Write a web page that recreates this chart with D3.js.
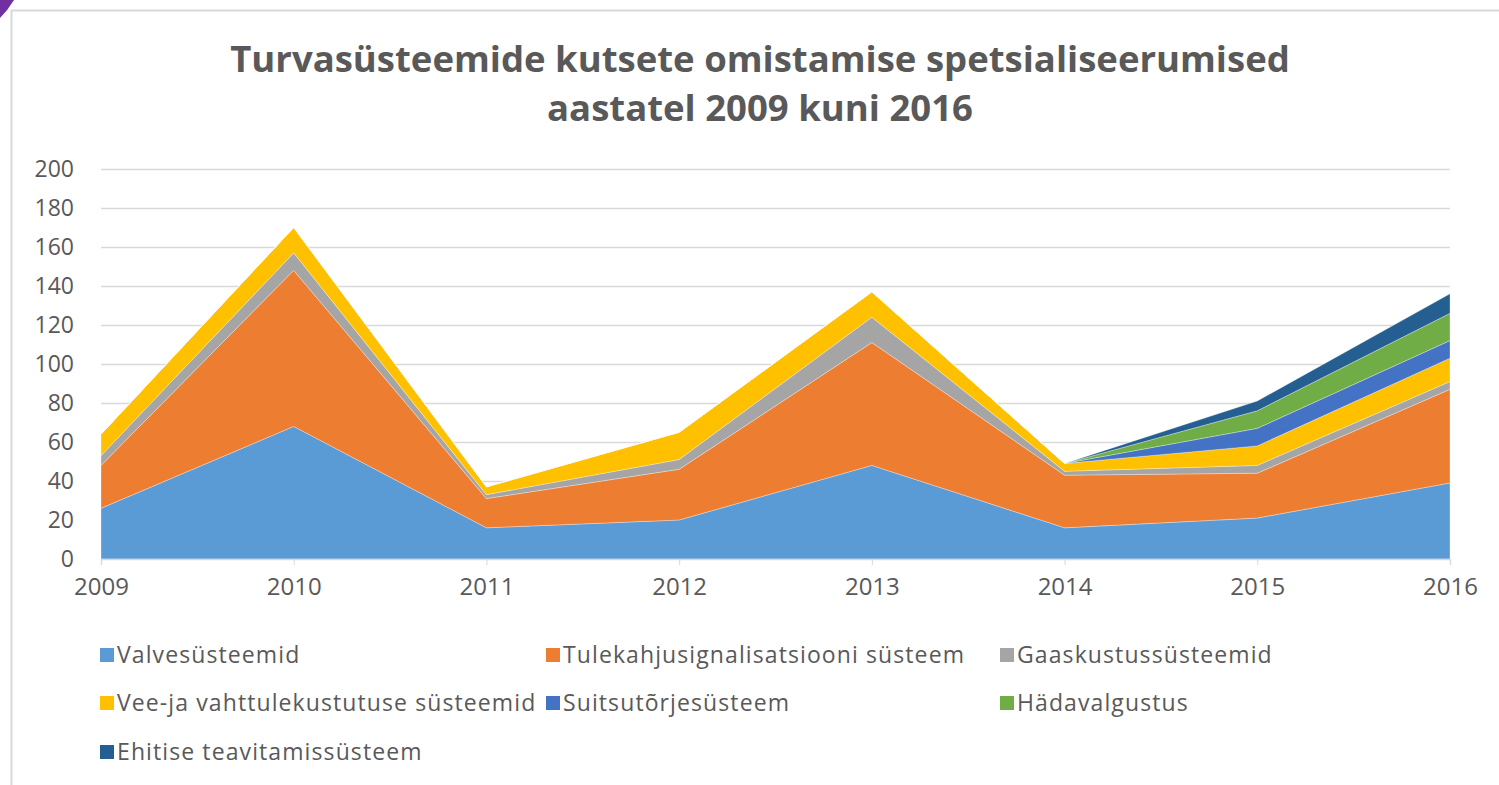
<!DOCTYPE html>
<html>
<head>
<meta charset="utf-8">
<script src="https://cdn.jsdelivr.net/npm/d3@7"></script>
<style>
  body { margin: 0; background: #fff; }
  svg text { font-family: "Open Sans", sans-serif; fill: #595959; }
</style>
</head>
<body>
<div id="app"></div>
<script>
const years = [2009, 2010, 2011, 2012, 2013, 2014, 2015, 2016];
const valve = [26, 68, 16, 20, 48, 16, 21, 39];
const tulekahju = [22, 80, 15, 26, 63, 27, 23, 48];
const gaas = [5, 9, 2, 5, 13, 2, 4, 4];
const vesi = [11, 13, 4, 14, 13, 4, 10, 12];
const suits = [0, 0, 0, 0, 0, 0, 9, 9];
const hada = [0, 0, 0, 0, 0, 0, 9, 14];
const ehitis = [0, 0, 0, 0, 0, 0, 5, 10];
const yTicks = [0, 20, 40, 60, 80, 100, 120, 140, 160, 180, 200];

const seriesNames = ['Valvesüsteemid', 'Tulekahjusignalisatsiooni süsteem', 'Gaaskustussüsteemid',
  'Vee-ja vahttulekustutuse süsteemid', 'Suitsutõrjesüsteem', 'Hädavalgustus', 'Ehitise teavitamissüsteem'];
const seriesValues = [valve, tulekahju, gaas, vesi, suits, hada, ehitis];
const colors = ['#5b9bd5', '#ed7d31', '#a5a5a5', '#ffc000', '#4472c4', '#70ad47', '#255e91'];

const w = 1499, h = 785;
const plotLeft = 101, plotRight = 1450, plotTop = 169, plotBottom = 559;

// rows for d3.stack
const rows = years.map((yr, i) => {
  const r = { year: yr };
  seriesNames.forEach((n, k) => { r[n] = seriesValues[k][i]; });
  return r;
});

const svg = d3.select('#app').append('svg').attr('width', w).attr('height', h);

// chart frame + corner mark
svg.append('rect').attr('x', 11.5).attr('y', 10.5).attr('width', w).attr('height', h)
  .attr('fill', '#fff').attr('stroke', '#d9d9d9').attr('stroke-width', 2);
svg.append('path').attr('d', 'M0,0 L14,0 Q8,10 0,18 Z').attr('fill', '#7030a0');

const x = d3.scaleLinear().domain([2009, 2016]).range([plotLeft, plotRight]);
const y = d3.scaleLinear().domain([0, 200]).range([plotBottom, plotTop]);

// gridlines
svg.append('g')
  .attr('transform', `translate(${plotLeft},0)`)
  .call(d3.axisLeft(y).tickValues(yTicks.filter(t => t > 0)).tickSize(-(plotRight - plotLeft)).tickFormat(''))
  .call(g => g.select('.domain').remove())
  .call(g => g.selectAll('line').attr('stroke', '#d9d9d9').attr('stroke-width', 1.5));

const stack = d3.stack().keys(seriesNames);
const layers = stack(rows);

const area = d3.area()
  .x(d => x(d.data.year))
  .y0(d => y(d[0]))
  .y1(d => y(d[1]));

svg.append('g').selectAll('path')
  .data(layers)
  .join('path')
  .attr('d', area)
  .attr('fill', (d, i) => colors[i])
  .attr('stroke', 'rgba(255,255,255,0.3)')
  .attr('stroke-width', 1);

// y axis labels
svg.append('g')
  .attr('transform', `translate(${plotLeft},0)`)
  .call(d3.axisLeft(y).tickValues(yTicks).tickSize(0).tickPadding(27))
  .call(g => g.select('.domain').remove())
  .call(g => g.selectAll('text').style('font-size', '23px').attr('fill', '#595959'));

// x axis
svg.append('g')
  .attr('transform', `translate(0,${plotBottom})`)
  .call(d3.axisBottom(x).tickValues(years).tickFormat(d3.format('d')).tickSize(6).tickPadding(13))
  .call(g => g.select('.domain').attr('stroke', '#d9d9d9').attr('stroke-width', 1.5))
  .call(g => g.selectAll('line').attr('stroke', '#d9d9d9'))
  .call(g => g.selectAll('text').style('font-size', '24px').attr('fill', '#595959'));

// title
const title = svg.append('text')
  .attr('text-anchor', 'middle')
  .style('font-size', '36.5px')
  .style('font-weight', 'bold');
title.append('tspan').attr('x', 760).attr('y', 72).text('Turvasüsteemide kutsete omistamise spetsialiseerumised');
title.append('tspan').attr('x', 760).attr('y', 121).text('aastatel 2009 kuni 2016');

// legend
const legX = [100, 546, 1000];
const legY = [655, 703, 752];
const legend = svg.append('g').selectAll('g')
  .data(seriesNames)
  .join('g')
  .attr('transform', (d, i) => `translate(${legX[i % 3]},${legY[Math.floor(i / 3)]})`);
legend.append('rect').attr('x', 0).attr('y', -7).attr('width', 14).attr('height', 14)
  .attr('fill', (d, i) => colors[i]);
legend.append('text').attr('x', 17).attr('y', 0).attr('dy', '0.35em')
  .style('font-size', '23px').style('letter-spacing', '1.1px').text(d => d);
</script>
</body>
</html>
